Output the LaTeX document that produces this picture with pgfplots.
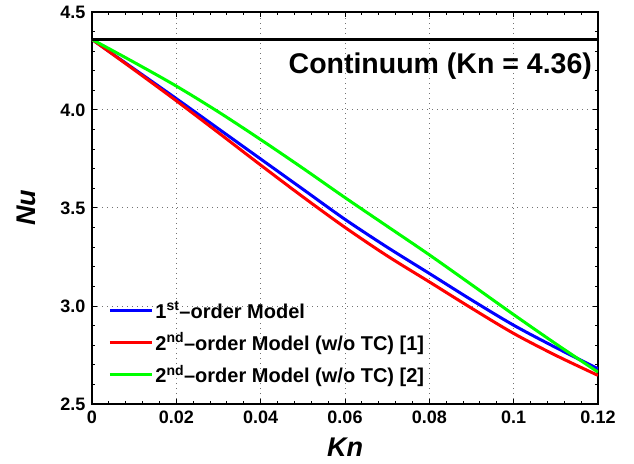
\documentclass[border=0pt]{standalone}
\usepackage{fontspec}
\setmainfont{Liberation Sans}
\usepackage{pgfplots}
\pgfplotsset{compat=1.18}

\begin{document}
\begin{tikzpicture}
\begin{axis}[
    width=506pt, height=392pt,
    scale only axis,
    xmin=0, xmax=0.12,
    ymin=2.5, ymax=4.5,
    xtick={0,0.02,0.04,0.06,0.08,0.1,0.12},
    xticklabels={0,0.02,0.04,0.06,0.08,0.1,0.12},
    ytick={2.5,3.0,3.5,4.0,4.5},
    yticklabels={2.5,3.0,3.5,4.0,4.5},
    minor x tick num=4,
    minor y tick num=4,
    tick pos=both,
    tick align=inside,
    major tick length=5pt,
    minor tick length=3pt,
    every tick/.style={black, line width=1pt},
    axis line style={line width=2pt},
    grid=major,
    grid style={black!55, line width=1pt, dash pattern=on 1pt off 4pt},
    tick label style={font=\fontsize{18}{18}\selectfont\bfseries},
    xticklabel style={yshift=-3pt},
    yticklabel style={xshift=-3pt},
    xlabel={\textbf{\textit{Kn}}},
    ylabel={\textbf{\textit{Nu}}},
    label style={font=\fontsize{27}{27}\selectfont},
    xlabel style={at={(axis description cs:0.5,-0.135)}, anchor=base},
    ylabel style={at={(axis description cs:-0.111,0.5)}, anchor=base, rotate=0},
    legend cell align={left},
    legend style={at={(axis description cs:0.032,0.045)}, anchor=south west,
                  draw=none, fill=none, inner sep=0pt, row sep=9pt,
                  font=\fontsize{20}{20}\selectfont\bfseries,
                  nodes={inner sep=2pt}},
    legend image code/.code={\draw[#1, line width=3pt] (0pt,0pt) -- (42pt,0pt);},
    every axis plot/.append style={line width=3pt, smooth},
]
% 1st-order model
\addplot[color={rgb,255:red,0;green,0;blue,255}] coordinates {
  (0,4.360) (0.01,4.209) (0.02,4.058) (0.03,3.904) (0.04,3.750)
  (0.05,3.596) (0.06,3.442) (0.07,3.300) (0.08,3.166) (0.09,3.031)
  (0.1,2.902) (0.11,2.788) (0.12,2.680)
};
\addlegendentry{1\textsuperscript{st}--order Model}

% 2nd-order model [1]
\addplot[color={rgb,255:red,255;green,0;blue,0}] coordinates {
  (0,4.360) (0.01,4.205) (0.02,4.047) (0.03,3.884) (0.04,3.719)
  (0.05,3.557) (0.06,3.401) (0.07,3.256) (0.08,3.123) (0.09,2.989)
  (0.1,2.860) (0.11,2.748) (0.12,2.646)
};
\addlegendentry{2\textsuperscript{nd}--order Model (w/o TC) [1]}

% 2nd-order model [2]
\addplot[color={rgb,255:red,0;green,255;blue,0}] coordinates {
  (0,4.360) (0.01,4.243) (0.02,4.122) (0.03,3.990) (0.04,3.849)
  (0.05,3.703) (0.06,3.553) (0.07,3.407) (0.08,3.261) (0.09,3.109)
  (0.1,2.956) (0.11,2.807) (0.12,2.663)
};
\addlegendentry{2\textsuperscript{nd}--order Model (w/o TC) [2]}

% continuum limit
\addplot[black, line width=3pt, forget plot, sharp plot] coordinates {(0,4.36) (0.12,4.36)};
\node[anchor=east, inner sep=0pt, font=\fontsize{28.5}{28.5}\selectfont\bfseries]
    at (axis cs:0.1186,4.226) {Continuum (Kn = 4.36)};
\end{axis}
\pgfresetboundingbox
\path[use as bounding box] (current axis.south west) ++(-92pt,-59pt) rectangle ++(634pt,463pt);
\end{tikzpicture}
\end{document}
